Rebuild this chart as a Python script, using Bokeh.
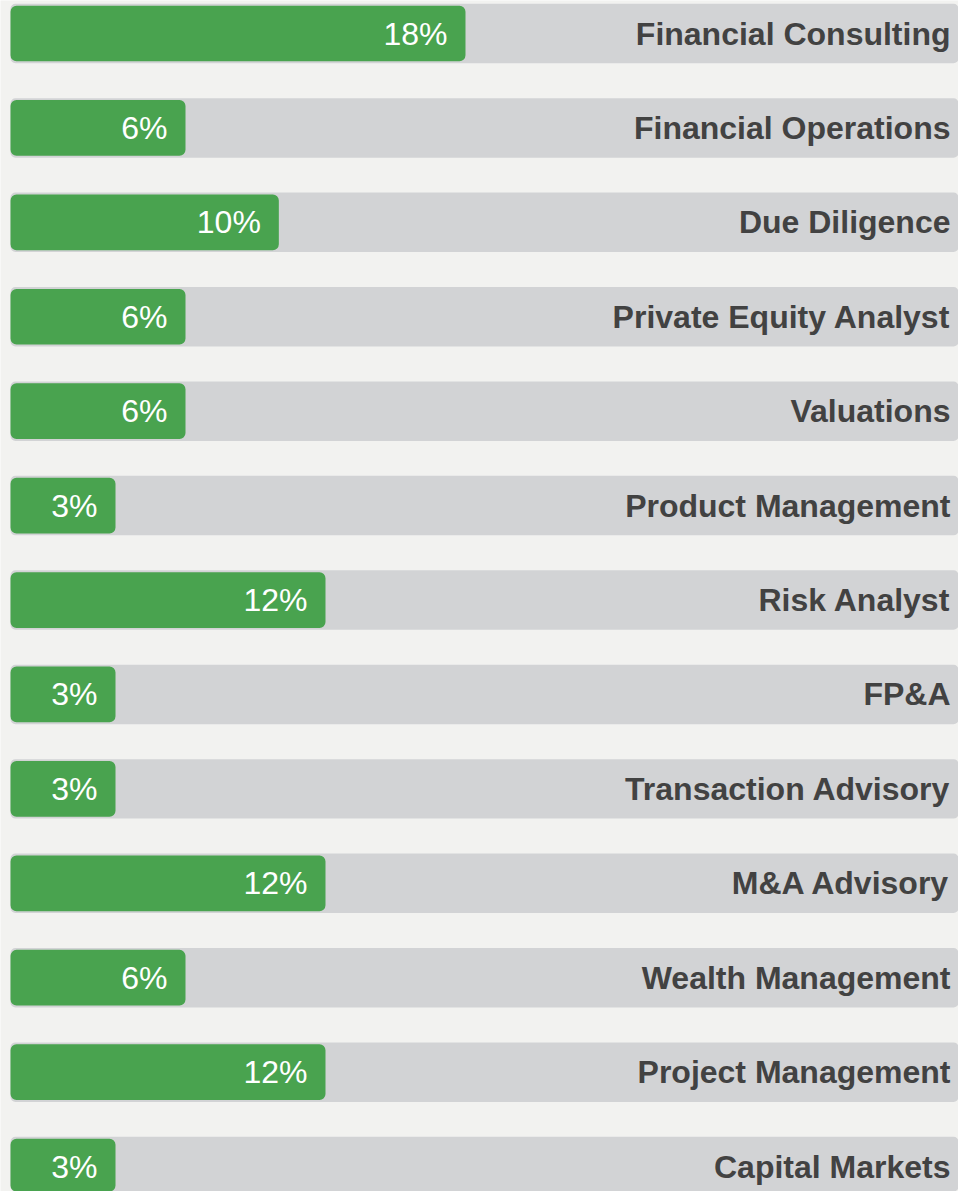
from bokeh.plotting import figure
from bokeh.models import Range1d, ColumnDataSource
from bokeh.embed import file_html
from bokeh.resources import INLINE
from bokeh.core.properties import value

categories = [
    "Financial Consulting",
    "Financial Operations",
    "Due Diligence",
    "Private Equity Analyst",
    "Valuations",
    "Product Management",
    "Risk Analyst",
    "FP&A",
    "Transaction Advisory",
    "M&A Advisory",
    "Wealth Management",
    "Project Management",
    "Capital Markets",
]
shares = [18, 6, 10, 6, 6, 3, 12, 3, 3, 12, 6, 12, 3]
pct_labels = [f"{v}%" for v in shares]
rows = list(range(len(categories)))

# layout constants
BASE = -1.5
X_START = -1.929
X_END = 39.13

src = ColumnDataSource(dict(cat=categories, share=shares, lab=pct_labels, row=rows))

p = figure(
    width=958, height=1191,
    x_range=Range1d(X_START, X_END),
    y_range=Range1d(12.264, -0.3495),
    output_backend="svg", toolbar_location=None,
    min_border=0,
)
p.background_fill_color = "#F2F2F0"
p.border_fill_color = "#F2F2F0"
p.outline_line_color = None
p.axis.visible = False
p.grid.visible = False

# grey track bars
p.hbar(y="row", left=BASE, right=X_END + 5, height=0.63, source=src,
       fill_color="#D2D3D5", line_color=None, border_radius=5)
# green value bars
p.hbar(y="row", left=BASE, right="share", height=0.59, source=src,
       fill_color="#49A34F", line_color=None, border_radius=6)

# percent labels inside bars
p.text(x="share", y="row", text="lab", source=src, text_align="right",
       text_baseline="middle", x_offset=-18, text_color="white",
       text_font=value("Liberation Sans"), text_font_size="32px")

# category labels on the right
p.text(x=X_END, y="row", text="cat", source=src, text_align="right",
       text_baseline="middle", x_offset=-8, text_color="#424242",
       text_font=value("Liberation Sans"), text_font_style="bold",
       text_font_size="32px")

open("out.html", "w").write(file_html(p, INLINE))
